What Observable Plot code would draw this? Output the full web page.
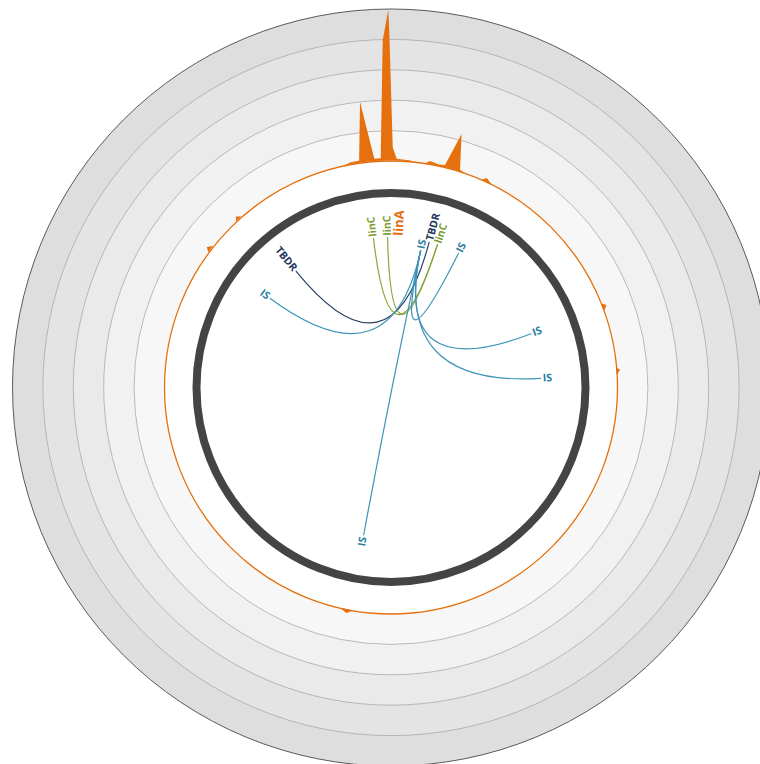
<!DOCTYPE html>
<html><head><meta charset="utf-8">
<script src="https://cdn.jsdelivr.net/npm/d3@7"></script>
<script src="https://cdn.jsdelivr.net/npm/@observablehq/plot@0.6"></script>
<style>body{margin:0;background:#fff} svg{display:block}</style>
</head><body><div id="chart"></div>
<script>
// ---- data ----
// radial gridlines of the density track (track values)
const ringLevels = [1, 2, 3, 4, 5];
const ringFills = ["#f7f7f7", "#f1f1f1", "#eaeaea", "#e4e4e4", "#dedede"];
// density track: segment id, position (degrees clockwise from top), value
const trackSeg = [1,1,1,1,1,1,1,1,1,1,1,1,1,1, 2,2,2,2,2,2,2, 3,3,3, 4,4,4, 5,5,5, 6,6,6, 7,7,7, 8,8,8];
const trackAngle = [-12,-10,-7.9,-6.1,-4.05,-2.45,-1.29,-0.33,-0.19,0.53,1.55,3,5,6.5,
  8.8,9.9,12.3,13.8,15.7,17.76,19,
  23.8,24.7,26.5,
  -53.5,-52.7,-51.5,
  -43,-42.2,-41.2,
  68.3,69.2,70.5,
  85,85.7,87,
  189.5,191,193];
const trackValue = [0,0.06,0.06,1.98,0.08,0.08,3.95,4.97,4.18,0.44,0.06,0.04,0.03,0,
  0,0.1,0.04,0.07,1.19,0.05,0,
  0,0.12,0,
  0,0.15,0,
  0,0.12,0,
  0,0.15,0,
  0,0.12,0,
  0,0.12,0];
// features (labels) on the inner circle
const featName  = ["linC","linC","linA","IS","TBDR","linC","IS","IS","IS","IS","IS","TBDR"];
const featAngle = [-6.7, -1.3, 2.8, 12.2, 14.7, 18, 26.7, 69, 86.5, 190.5, 306.4, 320.8];
// links between features (indices into feature arrays)
const linkFrom = [11, 0, 1, 3, 3, 3, 3, 3];
const linkTo   = [4, 5, 5, 10, 6, 7, 8, 9];

// ---- styles ----
const colors = {IS: "#3f95b8", TBDR: "#2b3f64", linC: "#87a53a", linA: "#e5700d"};
const labelColors = {IS: "#2a7ea3", TBDR: "#22355a", linC: "#7d9c33", linA: "#e5700d"};
const orange = "#e5700d";

// radial scale for the track
const rTrack = d3.scaleLinear([0, 5], [226.5, 378.5]);
const linkR = 150;
const pol = (r, a) => ({x: r * Math.sin(a * Math.PI / 180), y: -r * Math.cos(a * Math.PI / 180)});

const rings = ringLevels.map((l, i) => ({level: l, r: rTrack(l), fill: ringFills[i]}));
const track = trackAngle.map((a, i) => ({seg: trackSeg[i], a, v: trackValue[i]}));
const feats = featName.map((n, i) => ({name: n, a: featAngle[i], i}));
// hub IS label sits on an inner lane (collision with TBDR label)
const laneR = f => (f.i === 3 ? 140 : linkR);

const linkPts = [];
linkFrom.forEach((f, k) => {
  const A = feats[f], B = feats[linkTo[k]];
  const pa = pol(laneR(A), A.a), pb = pol(laneR(B), B.a);
  linkPts.push({k, type: A.name, x: pa.x, y: pa.y});
  linkPts.push({k, type: A.name, x: 0, y: 0});
  linkPts.push({k, type: A.name, x: pb.x, y: pb.y});
});

function quadCurve(context) {
  let pts = [];
  return {
    areaStart() {}, areaEnd() {},
    lineStart() { pts = []; },
    point(x, y) { pts.push([+x, +y]); },
    lineEnd() {
      if (pts.length === 3) {
        context.moveTo(pts[0][0], pts[0][1]);
        context.quadraticCurveTo(pts[1][0], pts[1][1], pts[2][0], pts[2][1]);
      }
    }
  };
}

const flip = a => { const t = ((a % 360) + 360) % 360; return t > 180 && t < 340; };
const labelData = feats.map(f => {
  const r = laneR(f) + 2;
  const p = pol(r, f.a);
  const fl = flip(f.a);
  return {...f, x: p.x, y: p.y, flip: fl, rot: fl ? f.a + 90 : f.a - 90};
});

const chart = Plot.plot({
  width: 760, height: 764,
  margin: 0,
  x: {domain: [-390.5, 369.5], range: [0, 760], axis: null},
  y: {domain: [-387, 377], range: [0, 764], axis: null},
  r: {type: "identity"},
  style: {fontFamily: "'Open Sans', sans-serif", background: "#fff"},
  marks: [
    Plot.dot(rings, {x: () => 0, y: () => 0, r: "r", fill: "fill",
      stroke: d => d.level === 5 ? "#5a5a5a" : "#aaaaaa", strokeWidth: d => d.level === 5 ? 1 : 0.8}),
    Plot.dot([0], {x: () => 0, y: () => 0, r: rTrack(0), fill: "#fff", stroke: "none"}),
    Plot.area(track, {
      x1: d => pol(rTrack(d.v), d.a).x, y1: d => pol(rTrack(d.v), d.a).y,
      x2: d => pol(rTrack(0), d.a).x, y2: d => pol(rTrack(0), d.a).y,
      z: "seg", fill: orange, curve: "linear"
    }),
    Plot.dot([0], {x: () => 0, y: () => 0, r: rTrack(0), fill: "none", stroke: orange, strokeWidth: 1.3}),
    Plot.dot([0], {x: () => 0, y: () => 0, r: 194.5, fill: "none", stroke: "#444", strokeWidth: 8}),
    Plot.line(linkPts, {x: "x", y: "y", z: "k", stroke: d => colors[d.type], strokeWidth: 1.2, curve: quadCurve}),
    Plot.text(labelData.filter(d => d.name !== "linA" && !d.flip), {x: "x", y: "y", text: "name", rotate: "rot",
      textAnchor: "start", fill: d => labelColors[d.name], fontSize: 10.5, fontWeight: 700}),
    Plot.text(labelData.filter(d => d.name !== "linA" && d.flip), {x: "x", y: "y", text: "name", rotate: "rot",
      textAnchor: "end", fill: d => labelColors[d.name], fontSize: 10.5, fontWeight: 700}),
    Plot.text(labelData.filter(d => d.name === "linA"), {x: "x", y: "y", text: "name", rotate: "rot",
      textAnchor: "start", fill: d => labelColors[d.name], fontSize: 13, fontWeight: 700})
  ]
});
document.getElementById("chart").appendChild(chart);
</script>
</body></html>
